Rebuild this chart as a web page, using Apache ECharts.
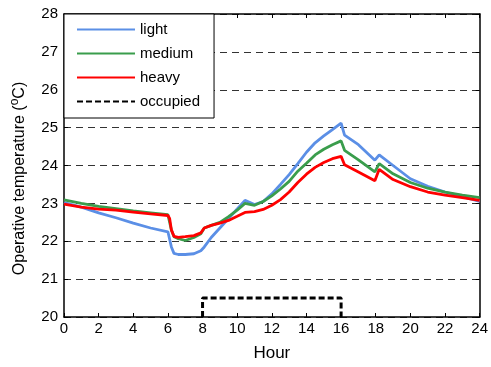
<!DOCTYPE html>
<html>
<head>
<meta charset="utf-8">
<script src="https://cdn.jsdelivr.net/npm/echarts@6/dist/echarts.min.js"></script>
<style>
  html, body { margin: 0; padding: 0; background: #fff; }
  #chart { width: 491px; height: 367px; }
</style>
</head>
<body>
<div id="chart"></div>
<script>
// hours of day shared by the three temperature curves
var hours = [0, 1, 2, 3, 4, 5, 6, 6.1, 6.2, 6.35, 6.6, 7, 7.5, 7.9, 8.1, 8.5, 9, 9.5, 10, 10.45,
  11, 11.5, 12, 12.5, 13, 13.5, 14, 14.5, 15, 15.5, 16, 16.2, 17, 17.95, 18.2, 19, 20, 21, 22, 23, 24];

var light = [23.02, 22.9, 22.75, 22.62, 22.48, 22.35, 22.25, 22.2, 21.85, 21.68, 21.65, 21.65, 21.67, 21.75, 21.85, 22.1, 22.35, 22.6, 22.85, 23.08,
  22.97, 23.05, 23.25, 23.5, 23.76, 24.05, 24.35, 24.6, 24.78, 24.95, 25.12, 24.8, 24.55, 24.14, 24.28, 24.0, 23.65, 23.45, 23.3, 23.18, 23.05];

var medium = [23.09, 23.0, 22.92, 22.86, 22.8, 22.75, 22.7, 22.65, 22.3, 22.12, 22.07, 22.02, 22.1, 22.2, 22.35, 22.42, 22.5, 22.65, 22.82, 23.0,
  22.95, 23.05, 23.2, 23.38, 23.58, 23.85, 24.06, 24.28, 24.43, 24.55, 24.65, 24.4, 24.15, 23.83, 24.05, 23.78, 23.55, 23.4, 23.3, 23.22, 23.15];

var heavy = [22.98, 22.9, 22.85, 22.82, 22.77, 22.72, 22.68, 22.6, 22.3, 22.13, 22.1, 22.12, 22.15, 22.22, 22.35, 22.42, 22.48, 22.55, 22.66, 22.76,
  22.78, 22.84, 22.95, 23.1, 23.3, 23.55, 23.77, 23.95, 24.08, 24.18, 24.24, 24.02, 23.83, 23.6, 23.9, 23.63, 23.44, 23.3, 23.22, 23.15, 23.08];

// occupied period
var occHours = [8, 8, 16, 16];
var occValues = [20, 20.5, 20.5, 20];

var xTicks = [0, 2, 4, 6, 8, 10, 12, 14, 16, 18, 20, 22, 24];
var yTicks = [20, 21, 22, 23, 24, 25, 26, 27, 28];

function pairs(xs, ys) {
  return xs.map(function (x, i) { return [x, ys[i]]; });
}

var font = 'Liberation Sans, Arial, sans-serif';

var chart = echarts.init(document.getElementById('chart'));

var option = {
  backgroundColor: '#fff',
  animation: false,
  textStyle: { fontFamily: font },
  grid: { left: 64, right: 8, top: 14, bottom: 50, containLabel: false },
  legend: {
    orient: 'vertical',
    left: 64,
    top: 14,
    padding: [8, 14, 9, 12],
    itemWidth: 58,
    itemHeight: 14,
    itemGap: 9,
    backgroundColor: '#fff',
    borderColor: '#000',
    borderWidth: 1,
    borderRadius: 0,
    itemStyle: { opacity: 0 },
    textStyle: { fontFamily: font, fontSize: 15, color: '#000' },
    data: ['light', 'medium', 'heavy', 'occupied']
  },
  xAxis: [{
    type: 'value',
    min: xTicks[0],
    max: xTicks[xTicks.length - 1],
    interval: 2,
    name: 'Hour',
    nameLocation: 'middle',
    nameGap: 28,
    nameTextStyle: { fontFamily: font, fontSize: 17, color: '#000' },
    axisLine: { onZero: false, lineStyle: { color: '#000', width: 1.5 } },
    axisTick: { inside: true, length: 4, lineStyle: { color: '#000' } },
    axisLabel: { margin: 4, fontSize: 15, color: '#000', fontFamily: font },
    splitLine: { show: false }
  }, {
    type: 'value',
    position: 'top',
    min: xTicks[0],
    max: xTicks[xTicks.length - 1],
    interval: 2,
    axisLine: { onZero: false, lineStyle: { color: '#000', width: 1.5 } },
    axisTick: { inside: true, length: 4, lineStyle: { color: '#000' } },
    axisLabel: { show: false },
    splitLine: { show: false }
  }],
  yAxis: [{
    type: 'value',
    min: yTicks[0],
    max: yTicks[yTicks.length - 1],
    interval: 1,
    name: 'Operative temperature ({sup|o}C)',
    nameLocation: 'middle',
    nameGap: 33,
    nameTextStyle: {
      fontFamily: font, fontSize: 16, color: '#000',
      padding: [0, 26, 0, 0],
      rich: { sup: { fontSize: 12, fontFamily: font, color: '#000', padding: [0, 0, 10, 0] } }
    },
    axisLine: { onZero: false, lineStyle: { color: '#000', width: 1.5 } },
    axisTick: { inside: true, length: 4, lineStyle: { color: '#000' } },
    axisLabel: { margin: 6, fontSize: 15, color: '#000', fontFamily: font },
    splitLine: { show: true, lineStyle: { color: '#333', width: 1, type: [7, 5] } }
  }, {
    type: 'value',
    position: 'right',
    min: yTicks[0],
    max: yTicks[yTicks.length - 1],
    interval: 1,
    axisLine: { onZero: false, lineStyle: { color: '#000', width: 1.5 } },
    axisTick: { inside: true, length: 4, lineStyle: { color: '#000' } },
    axisLabel: { show: false },
    splitLine: { show: false }
  }],
  series: [{
    name: 'light', type: 'line', symbol: 'none',
    data: pairs(hours, light),
    lineStyle: { color: '#5b8fe6', width: 2.8 },
    itemStyle: { color: '#5b8fe6' }
  }, {
    name: 'medium', type: 'line', symbol: 'none',
    data: pairs(hours, medium),
    lineStyle: { color: '#3a9d4c', width: 2.8 },
    itemStyle: { color: '#3a9d4c' }
  }, {
    name: 'heavy', type: 'line', symbol: 'none',
    data: pairs(hours, heavy),
    lineStyle: { color: '#ff0000', width: 2.8 },
    itemStyle: { color: '#ff0000' }
  }, {
    name: 'occupied', type: 'line', symbol: 'none',
    data: pairs(occHours, occValues),
    lineStyle: { color: '#000', width: 3, type: [6, 3] },
    itemStyle: { color: '#000' }
  }]
};

chart.setOption(option);
</script>
</body>
</html>
